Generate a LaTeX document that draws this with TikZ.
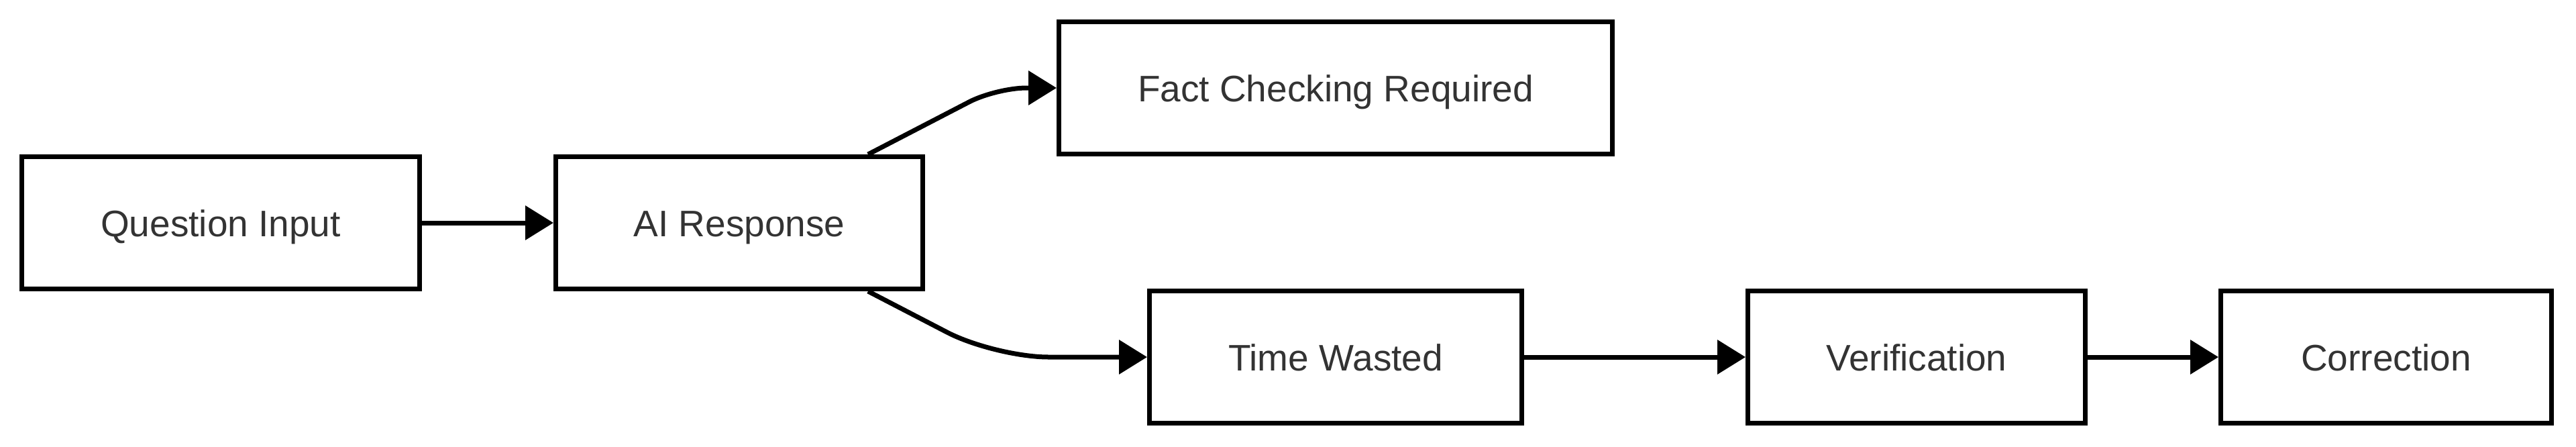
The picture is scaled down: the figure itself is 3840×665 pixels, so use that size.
\documentclass[tikz,border=0pt]{standalone}
\usepackage{fontspec}
\setmainfont{Liberation Sans}
\usetikzlibrary{arrows.meta}
\definecolor{txt}{HTML}{333333}
\tikzstyle{box}=[draw, line width=7pt, fill=white, text=txt, minimum height=197pt, text height=40pt, text depth=0pt, font=\fontsize{55}{66}\selectfont]
\tikzstyle{link}=[line width=7pt, -{Triangle[length=42pt,width=50pt]}]

\begin{document}
\begin{tikzpicture}[x=1pt,y=1pt]
            \useasboundingbox (0,0) rectangle (3840,-665);
            \node [box, minimum width=593pt] (Q) at (329,-332) {Question Input};
            \node [box, minimum width=547pt, right of=Q, node distance=773pt] (R) {AI Response};
            \node [box, minimum width=825pt] (F) at (1991,-131) {Fact Checking Required};
            \node [box, minimum width=555pt, below of=F, node distance=401pt] (T) {Time Wasted};
            \node [box, minimum width=503pt, right of=T, node distance=866pt] (V) {Verification};
            \node [box, minimum width=493pt, right of=V, node distance=700pt] (C) {Correction};
            \path[link] (Q) edge (R);
            \draw[link, rounded corners=45pt] ([xshift=192pt]R.north) -- ([xshift=-90pt]F.west) -- (F.west);
            \draw[link, rounded corners=80pt] ([xshift=192pt]R.south) -- ([xshift=-227pt]T.west) -- (T.west);
            \path[link] (T) edge (V);
            \path[link] (V) edge (C);
        \end{tikzpicture}
\end{document}
